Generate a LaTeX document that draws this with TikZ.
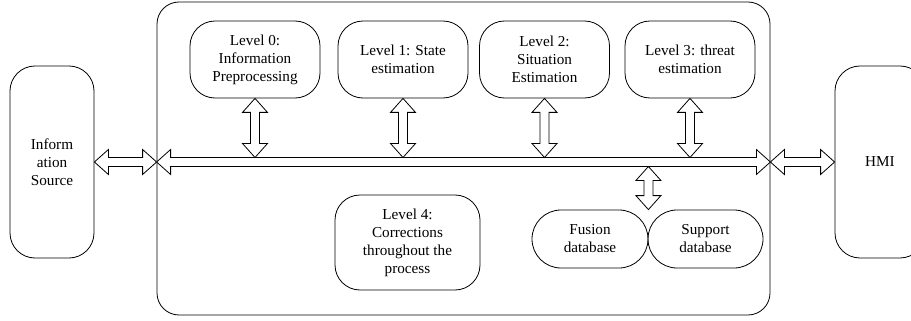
\documentclass[tikz,border=0pt]{standalone}
\usepackage{fontspec}
\setmainfont{Liberation Serif}
\usetikzlibrary{calc, positioning}

% hollow double-headed arrow between two points
\newcommand{\hollowarrow}[2]{%
  \draw[hollow] let \p1 = ($(#2)-(#1)$), \n1 = {veclen(\x1,\y1)}, \n2 = {atan2(\y1,\x1)} in
    [shift={(#1)}, rotate=\n2]
    (0,0) -- (14,12.5) -- (14,4.5) -- (\n1-14,4.5) -- (\n1-14,12.5) -- (\n1,0)
    -- (\n1-14,-12.5) -- (\n1-14,-4.5) -- (14,-4.5) -- (14,-12.5) -- cycle;}

\begin{document}
\begin{tikzpicture}[
    x=1pt, y=-1pt,
    line width=0.8pt,
    box/.style={draw, rounded corners=25pt, minimum width=130pt, minimum height=77pt, inner sep=1pt, align=center, font=\fontsize{15.2}{18}\selectfont},
    stadium/.style={draw, rounded corners=29pt, minimum width=116pt, minimum height=58pt, inner sep=1pt, align=center, font=\fontsize{15.2}{18}\selectfont},
    hollow/.style={draw, fill=white, line join=miter}
]
    \useasboundingbox (0,0) rectangle (911,321);

    % Outer frame
    \node[draw, rounded corners=22pt, minimum width=613pt, minimum height=313pt] (frame) at (463.5,158.5) {};

    % Side boxes
    \node[box, minimum width=84pt, minimum height=192pt] (src) at (52,162) {Inform\\ation\\Source};
    \node[box, minimum width=90pt, minimum height=192pt] (hmi) at (880,162) {HMI};

    % Levels
    \node[box] (lv0) at (255,59.5) {Level 0:\\Information\\Preprocessing};
    \node[box] (lv1) at (403,59.5) {Level 1: State\\estimation};
    \node[box] (lv2) at (544.5,59.5) {Level 2:\\Situation\\Estimation};
    \node[box] (lv3) at (690,59.5) {Level 3: threat\\estimation};
    \node[box, minimum width=145pt, minimum height=95pt] (lv4) at (407.5,242.5) {Level 4:\\Corrections\\throughout the\\process};

    % Databases
    \node[stadium] (fusion) at (590,239) {Fusion\\database};
    \node[stadium, minimum width=115pt] (support) at (705.5,239) {Support\\database};

    % Bus
    \coordinate (busL) at (frame.west |- src.east);
    \coordinate (busR) at (frame.east |- hmi.west);
    \hollowarrow{src.east}{busL}
    \hollowarrow{busR}{hmi.west}
    \hollowarrow{busL}{busR}

    % Level links
    \foreach \i in {0,...,3} {
        \coordinate (t\i) at ($(lv\i.south |- busL)+(0,-4.5)$);
        \hollowarrow{lv\i.south}{t\i}
    }
    \coordinate (dbtop) at ($(fusion.north east |- busL)+(0,4.5)$);
    \hollowarrow{dbtop}{fusion.north east}
\end{tikzpicture}
\end{document}
